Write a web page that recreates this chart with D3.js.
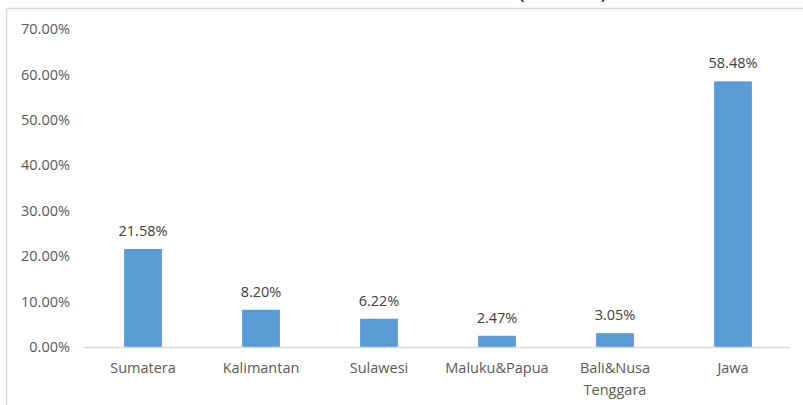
<!DOCTYPE html>
<html>
<head>
<meta charset="utf-8">
<script src="https://cdn.jsdelivr.net/npm/d3@7"></script>
<style>
  body { margin: 0; background: #fff; }
  text { font-family: "Open Sans", "Noto Sans", sans-serif; }
</style>
</head>
<body>
<div id="chart"></div>
<script>
const regions = ["Sumatera", "Kalimantan", "Sulawesi", "Maluku&Papua", "Bali&Nusa Tenggara", "Jawa"];
const shares = [21.58, 8.20, 6.22, 2.47, 3.05, 58.48];
const yTicks = [0, 10, 20, 30, 40, 50, 60, 70];

const width = 803;
const height = 405;

const marginLeft = 84;
const marginRight = 11;
const marginTop = 29;
const marginBottom = 58;

const svg = d3.select("#chart").append("svg")
  .attr("width", width)
  .attr("height", height);

// kant rundt om diagrammet
svg.append("rect")
  .attr("x", 6.5).attr("y", 8.5)
  .attr("width", width + 10).attr("height", height + 10)
  .attr("fill", "none")
  .attr("stroke", "#d9d9d9")
  .attr("stroke-width", 1.5);

// titel er skåret af i toppen, kun parenteserne kan ses
svg.append("text").text("(")
  .attr("x", 519).attr("y", -1)
  .attr("font-size", 18).attr("fill", "#000");
svg.append("text").text(")")
  .attr("x", 601).attr("y", -1)
  .attr("font-size", 18).attr("fill", "#000");

const x = d3.scaleBand()
  .domain(regions)
  .range([marginLeft, width - marginRight])
  .paddingInner(0.68)
  .paddingOuter(0.34);

const y = d3.scaleLinear()
  .domain([0, 70])
  .range([height - marginBottom, marginTop]);

// y-akse, kun tal
const yAxis = svg.append("g")
  .attr("transform", `translate(${marginLeft - 14}, 0)`)
  .call(d3.axisLeft(y).tickValues(yTicks).tickSize(0).tickFormat(d => d.toFixed(2) + "%"));
yAxis.select(".domain").remove();
yAxis.selectAll("text")
  .attr("fill", "#595959")
  .attr("font-size", 14.5)
  .attr("x", 0);

// søjler
svg.selectAll(".bar")
  .data(shares)
  .join("rect")
  .attr("class", "bar")
  .attr("x", (d, i) => x(regions[i]))
  .attr("y", d => y(d))
  .attr("width", x.bandwidth())
  .attr("height", d => y(0) - y(d))
  .attr("fill", "#5b9bd5");

// værdier over søjlerne
svg.selectAll(".val")
  .data(shares)
  .join("text")
  .attr("class", "val")
  .attr("x", (d, i) => x(regions[i]) + x.bandwidth() / 2)
  .attr("y", d => y(d) - 13)
  .attr("text-anchor", "middle")
  .attr("font-size", 14.5)
  .attr("fill", "#404040")
  .text(d => d.toFixed(2) + "%");

// x-akse
svg.append("line")
  .attr("x1", marginLeft).attr("x2", width - marginRight - 2)
  .attr("y1", y(0) + 0.5).attr("y2", y(0) + 0.5)
  .attr("stroke", "#d9d9d9")
  .attr("stroke-width", 1.5);

const xLabels = svg.selectAll(".cat")
  .data(regions)
  .join("text")
  .attr("class", "cat")
  .attr("x", d => x(d) + x.bandwidth() / 2)
  .attr("y", y(0) + 26)
  .attr("text-anchor", "middle")
  .attr("font-size", 14.5)
  .attr("fill", "#595959");

xLabels.each(function(d) {
  const words = d === "Bali&Nusa Tenggara" ? ["Bali&Nusa", "Tenggara"] : [d];
  const t = d3.select(this);
  words.forEach((w, k) => {
    t.append("tspan")
      .attr("x", t.attr("x"))
      .attr("dy", k === 0 ? 0 : 22)
      .text(w);
  });
});
</script>
</body>
</html>
